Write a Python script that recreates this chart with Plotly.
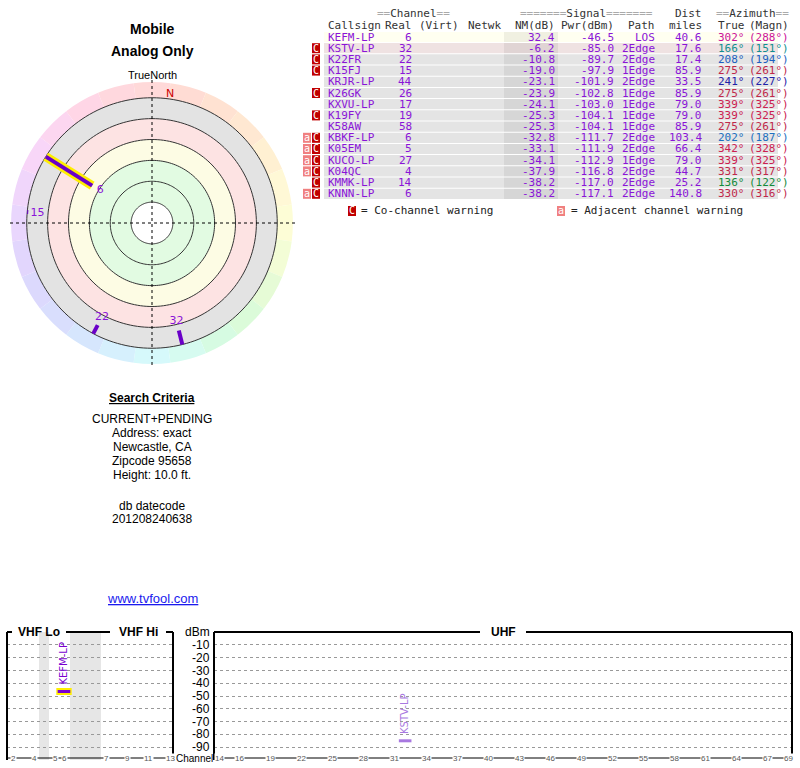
import plotly.graph_objects as go

W, H = 800, 768
def px(x): return x / W
def py(y): return 1 - y / H

# ---------------- data ----------------
callsigns = ["KEFM-LP","KSTV-LP","K22FR","K15FJ","KRJR-LP","K26GK","KXVU-LP","K19FY","K58AW",
             "KBKF-LP","K05EM","KUCO-LP","K04QC","KMMK-LP","KNNN-LP"]
channels = [6,32,22,15,44,26,17,19,58,6,5,27,4,14,6]
nm_db = [32.4,-6.2,-10.8,-19.0,-23.1,-23.9,-24.1,-25.3,-25.3,-32.8,-33.1,-34.1,-37.9,-38.2,-38.2]
pwr_dbm = [-46.5,-85.0,-89.7,-97.9,-101.9,-102.8,-103.0,-104.1,-104.1,-111.7,-111.9,-112.9,-116.8,-117.0,-117.1]
paths = ["LOS","2Edge","2Edge","1Edge","2Edge","1Edge","1Edge","1Edge","1Edge","2Edge","2Edge","1Edge","2Edge","2Edge","2Edge"]
dist_mi = [40.6,17.6,17.4,85.9,33.5,85.9,79.0,79.0,85.9,103.4,66.4,79.0,44.7,25.2,140.8]
az_true = [302,166,208,275,241,275,339,339,275,202,342,339,331,136,330]
az_magn = [288,151,194,261,227,261,325,325,261,187,328,325,317,122,316]
cochan = [False,True,True,True,False,True,False,True,False,True,True,True,True,True,True]
adjchan = [False,False,False,False,False,False,False,False,False,True,True,True,True,False,True]
az_colors = ["#cc1199","#118f8f","#1c5fc0","#c0284a","#1f22a8","#c0284a","#cc2050","#cc2050","#c0284a",
             "#1c6fc0","#cc2050","#cc2050","#c0284a","#138a3a","#c0284a"]

rings_nm = [80, 60, 40, 20, 0, -20]
dbm_ticks = [-10,-20,-30,-40,-50,-60,-70,-80,-90]
vhf_channels = [2,4,5,6,7,9,11,13]
uhf_ticks = [14,16,19,22,25,28,31,34,37,40,43,46,49,52,55,58,61,64,67,69]
# VHF display slot for each channel (segmented band scale)
vhf_slot = {2:13,3:23.5,4:34,5:55,6:64,7:106,8:116.5,9:127,10:137.5,11:148,12:159,13:170}

PURPLE = "#8a14d8"
fig = go.Figure()
annots = []

# ---------------- polar ----------------
def rv(nm): return 100 - nm
hues = [(0,"#ffd9d9"),(15,"#ffdcd4"),(30,"#ffe2d2"),(45,"#ffe8d2"),(60,"#fff0d2"),(75,"#fff8d6"),
        (90,"#fdfdd6"),(105,"#f3fdd6"),(120,"#e6fbd6"),(135,"#dbfbd9"),(150,"#d6fbe2"),(165,"#d6fbf0"),
        (180,"#d6f9fb"),(195,"#d6f0fd"),(210,"#d6e6fd"),(225,"#d9defd"),(240,"#dcd9fd"),(255,"#e2d6fd"),
        (270,"#e9d6fd"),(285,"#f0d6fb"),(300,"#f8d6f8"),(315,"#fcd6f0"),(330,"#ffd6e6"),(345,"#ffd8de")]
fig.add_trace(go.Barpolar(theta=[h[0] for h in hues], r=[15]*24, base=[120]*24, width=[15]*24,
                          marker=dict(color=[h[1] for h in hues], line=dict(width=0)), hoverinfo="skip", showlegend=False))
for base, r, col in [(100,20,"#e3e3e3"),(80,20,"#fde3e3"),(60,20,"#fdfce4"),(20,40,"#e2fbe2"),(0,20,"#ffffff")]:
    fig.add_trace(go.Barpolar(theta=[0], r=[r], base=[base], width=[360],
                              marker=dict(color=col, line=dict(width=0)), hoverinfo="skip", showlegend=False))
circle_theta = list(range(0, 361, 2))
for nm in rings_nm:
    fig.add_trace(go.Scatterpolar(theta=circle_theta, r=[rv(nm)]*len(circle_theta), mode="lines",
                                  line=dict(color="#333333", width=1), hoverinfo="skip", showlegend=False))
for a in [0, 90]:
    fig.add_trace(go.Scatterpolar(theta=[a, a + 180], r=[137, 137], mode="lines",
                                  line=dict(color="#000000", width=1, dash="dot"), hoverinfo="skip", showlegend=False))
for i in range(len(callsigns)):
    if rv(nm_db[i]) < 120:
        th = [az_true[i], az_true[i]]
        rr = [rv(nm_db[i]), rv(rings_nm[-1])]
        if i == 0:
            fig.add_trace(go.Scatterpolar(theta=th, r=rr, mode="lines", line=dict(color="#ffee00", width=9),
                                          hoverinfo="skip", showlegend=False))
        fig.add_trace(go.Scatterpolar(theta=th, r=rr, mode="lines", line=dict(color="#6a00c8", width=4),
                                      hoverinfo="skip", showlegend=False))
        fig.add_trace(go.Scatterpolar(theta=[az_true[i]], r=[rv(nm_db[i]) - 9], mode="text",
                                      text=[str(channels[i])], textfont=dict(color=PURPLE, size=11, family="DejaVu Sans"),
                                      hoverinfo="skip", showlegend=False))
fig.add_trace(go.Scatterpolar(theta=[8], r=[125], mode="text", text=["N"],
                              textfont=dict(color="#cc0000", size=11, family="DejaVu Sans"), showlegend=False))

fig.update_layout(polar=dict(
    domain=dict(x=[px(9), px(295)], y=[py(366), py(80)]),
    bgcolor="rgba(0,0,0,0)",
    radialaxis=dict(range=[0,137], showticklabels=False, ticks="", showline=False, showgrid=False),
    angularaxis=dict(direction="clockwise", rotation=90, showticklabels=False,
                     ticks="", showline=False, showgrid=False)))

# ---------------- spectrum ----------------
grid = dict(range=[-100,0], tickvals=dbm_ticks, showticklabels=False, ticks="", showgrid=True,
            gridcolor="#999999", griddash="dot", gridwidth=1, zeroline=False, fixedrange=True)
fig.update_layout(
    xaxis=dict(domain=[px(7), px(173)], range=[7,173], showgrid=False, showticklabels=False, zeroline=False),
    yaxis=dict(domain=[py(760), py(632)], **grid),
    xaxis2=dict(domain=[px(214), px(792)], range=[13.52,69.4], showgrid=False, showticklabels=False, zeroline=False),
    yaxis2=dict(domain=[py(760), py(632)], anchor="x2", **grid),
)
for x0, x1 in [(39,49),(70,101)]:
    fig.add_shape(type="rect", xref="x", yref="y", x0=x0, x1=x1, y0=-100, y1=0,
                  fillcolor="#e6e6e6", line_width=0, layer="below")

for i in range(len(callsigns)):
    if nm_db[i] > -10:
        vhf = channels[i] <= 13
        xv = vhf_slot[channels[i]] if vhf else channels[i]
        xa, ya = ("x","y") if vhf else ("x2","y2")
        col = "#7a00d0" if i == 0 else "#a878e0"
        if i == 0:
            fig.add_trace(go.Scatter(x=[xv], y=[pwr_dbm[i]], xaxis=xa, yaxis=ya, mode="markers",
                                     marker=dict(symbol="line-ew", size=11, line=dict(color="#ffee00", width=7)),
                                     showlegend=False, hoverinfo="skip"))
        fig.add_trace(go.Scatter(x=[xv], y=[pwr_dbm[i]], xaxis=xa, yaxis=ya, mode="markers",
                                 marker=dict(symbol="line-ew", size=9, line=dict(color=col, width=3)),
                                 showlegend=False, hoverinfo="skip"))
        annots.append(dict(x=xv, y=pwr_dbm[i], xref=xa, yref=ya, text=callsigns[i], textangle=-90,
                           showarrow=False, yanchor="bottom", yshift=5, font=dict(color=col, size=10, family="DejaVu Sans")))

# frames
def line(x0,y0,x1,y1,w=2):
    fig.add_shape(type="line", xref="paper", yref="paper", x0=px(x0), y0=py(y0), x1=px(x1), y1=py(y1),
                  line=dict(color="black", width=w))
line(7,632,7,760); line(7,632,12,632); line(66,632,110,632); line(166,632,173,632); line(173,632,173,760)
line(214,632,214,760); line(214,632,480,632); line(526,632,792,632); line(792,632,792,760)
line(7,758,173,758,1); line(214,758,792,758,1)

def txt(x, y, s, size=12, color="black", anchor="center", bold=False, family="Liberation Sans", bg=None):
    if bold: s = "<b>" + s + "</b>"
    a = dict(x=px(x), y=py(y), xref="paper", yref="paper", text=s, showarrow=False, xanchor=anchor,
             yanchor="middle", font=dict(size=size, color=color, family=family), borderpad=0)
    if bg: a["bgcolor"] = bg
    annots.append(a)

txt(39,632,"VHF Lo",12,bold=True); txt(138,632,"VHF Hi",12,bold=True); txt(503,632,"UHF",12,bold=True)
txt(197,632,"dBm",12)
for k, v in enumerate(dbm_ticks):
    txt(211,645+k*12.75,str(v),12,anchor="right")
txt(194,758,"Channel",10)
for c in vhf_channels:
    txt(vhf_slot[c],758,str(c),8,color="#555",bg="white")
for c in uhf_ticks:
    txt(219+(c-14)*10.35,758,str(c),8,color="#555",bg="white")

# left texts
txt(152,29,"Mobile",14,bold=True); txt(152,51,"Analog Only",14,bold=True); txt(152,75,"TrueNorth",11)
txt(152,398,"<u>Search Criteria</u>",12,bold=True)
for k, s in enumerate(["CURRENT+PENDING","Address: exact","Newcastle, CA","Zipcode 95658","Height: 10.0 ft."]):
    txt(152,419+k*14,s,12)
txt(152,506,"db datecode",12); txt(152,519,"201208240638",12)
txt(152,598,"<u>www.tvfool.com</u>",13,color="#1a1aee")

# table
MONO = "DejaVu Sans Mono"
HC = "#333333"
def eq(n): return '<span style="color:#aaaaaa">' + "="*n + "</span>"
txt(413,14,eq(2)+"Channel"+eq(2),11,HC,"center",family=MONO)
txt(586,14,eq(7)+"Signal"+eq(7),11,HC,"center",family=MONO)
txt(703,14,"Dist",11,HC,"right",family=MONO)
txt(752,14,eq(2)+"Azimuth"+eq(2),11,HC,"center",family=MONO)
for x, s, a in [(327,"Callsign","left"),(413,"Real","right"),(460,"(Virt)","right"),(502,"Netwk","right"),
                (556,"NM(dB)","right"),(615,"Pwr(dBm)","right"),(656,"Path","right"),(703,"miles","right"),
                (717,"True","left"),(790,"(Magn)","right")]:
    txt(x,25,s,11,HC,a,family=MONO)
row_y0, row_h = 37, 11.2
for i in range(len(callsigns)):
    y = row_y0 + i*row_h
    bg = "#fffff0" if i == 0 else ("#efe2e2" if i == 1 else "#e4e4e4")
    fig.add_shape(type="rect", xref="paper", yref="paper", x0=px(324), x1=px(778), y0=py(y+row_h/2-0.5),
                  y1=py(y-row_h/2+0.5), fillcolor=bg, line_width=0, layer="below")
    fig.add_shape(type="rect", xref="paper", yref="paper", x0=px(504), x1=px(558), y0=py(y+row_h/2-0.5),
                  y1=py(y-row_h/2+0.5), fillcolor="rgba(0,0,0,0.06)", line_width=0, layer="below")
    if cochan[i]:
        fig.add_shape(type="rect", xref="paper", yref="paper", x0=px(312), x1=px(320), y0=py(y+5), y1=py(y-5),
                      fillcolor="#c00000", line_width=0)
        txt(316,y,"C",10,"white",family=MONO)
    if adjchan[i]:
        fig.add_shape(type="rect", xref="paper", yref="paper", x0=px(303), x1=px(311), y0=py(y+5), y1=py(y-5),
                      fillcolor="#f08080", line_width=0)
        txt(307,y,"a",10,"white",family=MONO)
    txt(327,y,callsigns[i],11,PURPLE,"left",family=MONO)
    txt(413,y,str(channels[i]),11,PURPLE,"right",family=MONO)
    txt(556,y,f"{nm_db[i]:.1f}",11,PURPLE,"right",family=MONO)
    txt(615,y,f"{pwr_dbm[i]:.1f}",11,PURPLE,"right",family=MONO)
    txt(656,y,paths[i],11,PURPLE,"right",family=MONO)
    txt(703,y,f"{dist_mi[i]:.1f}",11,PURPLE,"right",family=MONO)
    txt(717,y,f"{az_true[i]}°",11,az_colors[i],"left",family=MONO)
    txt(790,y,f"({az_magn[i]}°)",11,az_colors[i],"right",family=MONO)
fig.add_shape(type="rect", xref="paper", yref="paper", x0=px(348), x1=px(356), y0=py(216), y1=py(206),
              fillcolor="#c00000", line_width=0)
txt(352,211,"C",10,"white",family=MONO)
txt(360,211,"= Co-channel warning",11,"#222","left",family=MONO)
fig.add_shape(type="rect", xref="paper", yref="paper", x0=px(557), x1=px(565), y0=py(216), y1=py(206),
              fillcolor="#f08080", line_width=0)
txt(561,211,"a",10,"white",family=MONO)
txt(570,211,"= Adjacent channel warning",11,"#222","left",family=MONO)

fig.update_layout(width=W, height=H, margin=dict(l=0,r=0,t=0,b=0), paper_bgcolor="white",
                  plot_bgcolor="rgba(0,0,0,0)", annotations=annots, showlegend=False)
fig.write_html("out.html", config={"displayModeBar": False})
with open("out.html", encoding="utf-8") as f:
    html = f.read()
html = html.replace("<body>", '<body style="margin:0;overflow:hidden">', 1)
with open("out.html", "w", encoding="utf-8") as f:
    f.write(html)
